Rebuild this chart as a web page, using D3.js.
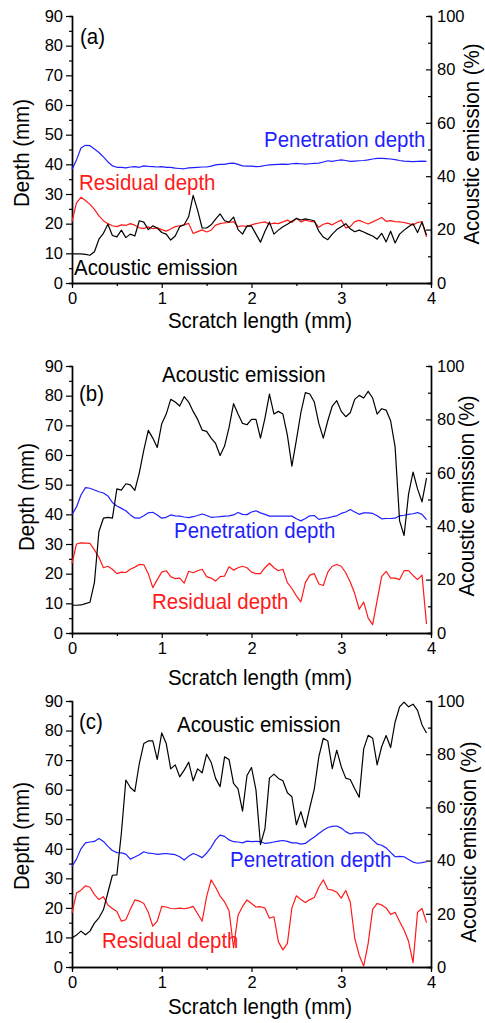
<!DOCTYPE html>
<html>
<head>
<meta charset="utf-8">
<script src="https://cdn.jsdelivr.net/npm/d3@7"></script>
<style>
  html, body { margin: 0; padding: 0; background: #fff; }
  svg { display: block; }
  text { font-family: "Liberation Sans", Arial, sans-serif; }
</style>
</head>
<body>
<svg id="chart" width="485" height="1023"></svg>
<script>
// ---------------- DATA ----------------
const scratchLength = [0,0.05,0.1,0.15,0.2,0.25,0.3,0.35,0.4,0.45,0.5,0.55,0.6,0.65,0.7,0.75,0.8,0.85,0.9,0.95,
  1.0,1.05,1.1,1.15,1.2,1.25,1.3,1.35,1.4,1.45,1.5,1.55,1.6,1.65,1.7,1.75,1.8,1.85,1.9,1.95,
  2.0,2.05,2.1,2.15,2.2,2.25,2.3,2.35,2.4,2.45,2.5,2.55,2.6,2.65,2.7,2.75,2.8,2.85,2.9,2.95,
  3.0,3.05,3.1,3.15,3.2,3.25,3.3,3.35,3.4,3.45,3.5,3.55,3.6,3.65,3.7,3.75,3.8,3.85,3.9,3.95];

const depthTicks = [0,10,20,30,40,50,60,70,80,90];
const aeTicks = [0,20,40,60,80,100];
const lengthTicks = [0,1,2,3,4];

// Panel (a)
const penA = [38.3,41.5,45.5,46.4,46.3,45.2,44.0,42.5,40.8,39.5,39.0,39.0,38.8,39.1,39.2,39.0,39.5,39.3,39.2,39.1,
  39.2,39.0,39.0,38.7,38.6,38.5,38.8,38.9,39.0,39.1,39.1,39.4,39.8,40.0,40.0,40.3,40.4,40.0,39.5,39.4,
  39.4,39.2,39.3,39.6,39.8,39.9,40.0,40.1,40.0,40.2,40.3,40.2,40.1,40.2,40.3,40.4,40.8,41.2,41.0,41.3,
  41.5,41.3,41.0,41.1,41.2,41.3,41.5,41.8,42.0,42.0,41.9,41.8,41.6,41.3,41.1,41.0,40.9,41.0,41.1,41.0];
const resA = [20.7,27.0,28.9,27.8,26.5,24.8,22.6,21.0,20.0,19.3,19.0,19.6,19.4,20.0,19.5,18.6,18.4,18.9,18.3,18.6,
  18.0,17.5,18.2,19.0,19.3,19.6,20.1,16.7,17.3,17.9,17.2,17.8,19.5,20.0,20.3,20.4,20.7,19.0,19.3,19.0,
  19.6,20.0,20.3,20.6,19.8,20.2,20.0,20.6,21.2,20.4,21.8,20.6,21.2,20.8,20.6,18.8,19.8,20.2,19.6,20.5,
  21.2,18.6,19.0,20.7,21.1,20.5,19.9,20.6,21.3,22.1,20.8,21.0,20.7,20.6,20.4,20.0,19.6,20.4,20.7,15.5];
const aeA = [10.9,10.9,10.9,10.7,10.4,11.7,16.4,18.6,22.0,17.8,17.3,19.8,17.0,18.3,17.6,23.3,22.8,20.0,21.4,20.6,
  18.9,18.3,16.1,17.6,21.1,21.8,24.9,32.8,27.2,20.6,20.6,21.8,23.9,25.9,23.3,22.8,24.7,20.0,18.3,21.4,
  21.3,18.3,15.3,19.4,22.8,18.3,19.8,21.1,22.0,23.1,24.2,23.6,24.0,23.7,23.3,19.4,17.2,16.2,18.3,20.0,
  21.1,22.2,20.3,19.2,19.8,19.1,18.3,17.6,16.4,18.6,15.4,19.4,15.0,18.3,19.8,21.1,22.2,18.9,22.8,18.0];

// Panel (b)
const penB = [39.9,42.5,46.5,49.0,48.8,48.2,47.6,47.2,46.2,44.0,42.8,42.0,41.2,39.8,38.8,38.7,39.5,40.5,40.7,39.8,
  38.7,39.0,39.8,39.5,39.4,39.1,38.9,39.2,39.6,40.1,39.6,39.0,39.1,39.2,39.4,39.5,39.8,40.6,40.0,39.9,
  40.8,41.2,40.5,40.0,39.4,39.4,39.4,39.4,39.4,39.4,38.5,37.8,38.6,39.5,39.6,38.3,38.6,38.8,39.2,39.5,
  40.3,40.8,41.6,40.8,40.0,40.5,40.5,40.3,39.5,38.5,38.6,38.6,38.7,39.5,39.7,40.0,40.2,40.6,40.0,38.2];
const resB = [23.4,30.0,30.4,30.3,30.2,28.0,25.5,22.0,22.5,21.5,20.0,20.5,20.4,21.5,22.2,23.1,23.0,20.0,15.3,18.0,
  20.5,21.0,19.0,18.3,18.5,16.8,20.8,20.3,21.0,21.5,19.0,18.5,17.5,19.0,19.2,22.3,21.2,22.0,22.5,22.0,
  20.5,20.0,20.0,22.0,23.5,22.0,21.0,21.5,17.0,15.0,12.5,10.5,17.0,19.5,20.0,16.5,16.0,20.5,22.5,23.1,
  22.5,20.3,17.2,13.3,8.0,10.4,5.0,2.8,11.0,19.0,20.8,18.5,18.5,18.0,21.0,21.0,19.4,18.0,19.5,3.0];
const aeB = [10.4,10.4,10.5,11.0,11.5,19.0,38.0,43.0,43.3,43.0,54.0,53.5,55.9,55.5,53.4,60.0,68.5,75.9,73.0,69.5,
  78.4,82.0,87.5,86.5,85.0,88.5,86.5,83.0,80.0,76.0,75.5,73.0,71.0,66.5,70.0,77.0,85.9,82.0,78.5,78.0,
  80.0,80.0,73.0,80.5,89.5,82.0,83.0,82.0,74.0,62.5,72.2,82.5,90.0,89.5,86.5,78.5,73.0,79.5,85.0,87.0,
  83.0,81.0,82.5,87.5,89.0,88.0,90.5,88.0,82.0,84.0,83.5,79.5,69.7,42.0,36.5,52.0,60.3,54.0,49.1,58.0];

// Panel (c)
const penC = [34.0,36.5,40.0,42.0,42.3,42.5,43.5,42.5,40.8,39.4,38.7,38.6,38.2,36.5,37.2,38.0,39.0,38.5,38.4,38.1,
  38.3,38.4,38.2,38.0,37.3,36.2,37.5,38.4,37.8,37.0,38.5,40.5,43.0,44.6,44.2,43.0,42.4,42.3,42.0,42.6,
  42.4,42.5,42.4,41.8,42.0,42.3,42.6,42.8,42.5,42.0,42.0,41.6,41.8,43.0,44.0,45.2,46.3,47.2,47.6,47.7,
  47.0,45.8,45.0,45.4,45.4,45.4,44.5,43.0,41.6,41.2,40.3,38.8,37.3,37.4,37.3,36.4,35.5,35.1,35.3,35.6];
const resC = [18.2,25.0,26.0,27.5,27.0,24.5,22.8,23.8,21.0,19.8,18.8,15.5,16.0,19.5,22.7,22.3,21.5,18.5,13.8,15.5,
  20.5,20.3,19.8,19.7,19.9,19.7,20.0,20.5,18.0,15.5,23.8,29.5,27.0,24.0,22.0,19.0,6.5,17.5,20.5,22.7,
  21.5,20.3,20.4,19.9,16.5,17.0,8.5,5.8,8.0,20.0,24.1,22.8,21.8,22.8,23.5,27.0,29.5,26.3,26.0,25.3,
  23.3,25.9,22.0,9.8,4.0,0.3,8.0,19.5,21.5,21.0,20.0,17.8,18.5,15.4,12.5,8.7,1.5,18.5,19.8,15.0];
const aeC = [10.9,12.0,13.5,12.1,13.5,16.5,18.5,21.5,28.0,34.5,34.6,50.3,70.3,67.5,66.0,76.5,84.0,85.0,85.0,78.0,
  88.0,84.0,74.5,76.0,71.5,74.0,77.0,70.0,74.5,73.0,80.0,77.0,70.9,67.8,79.0,78.0,69.0,67.0,58.6,72.0,
  75.0,66.5,46.0,52.0,71.0,72.5,70.9,70.0,65.5,64.0,53.5,58.4,52.5,60.0,67.0,79.0,86.0,85.0,74.6,81.5,
  75.3,71.0,70.5,67.0,63.8,82.0,87.1,86.0,76.0,82.8,87.0,82.5,92.1,97.8,99.6,97.8,98.8,96.5,91.0,88.0];

// ---------------- LAYOUT ----------------
const svg = d3.select("#chart");
const X0 = 72, X1 = 431;

const panels = [
  { tag: "(a)", top: 16, bottom: 283, pen: penA, res: resA, ae: aeA,
    tagPos: [80, 44],
    aePos: [74, 275], penPos: [264, 147], resPos: [79, 190],
    xTitleY: 328, lTitle: [29, 153], rTitle: [479, 144] },
  { tag: "(b)", top: 366, bottom: 633, pen: penB, res: resB, ae: aeB,
    tagPos: [79, 401],
    aePos: [162, 382], penPos: [174, 538], resPos: [152, 609],
    xTitleY: 685, lTitle: [34, 497], rTitle: [474, 496] },
  { tag: "(c)", top: 701, bottom: 967, pen: penC, res: resC, ae: aeC,
    tagPos: [79, 729],
    aePos: [177, 732], penPos: [230, 867], resPos: [102, 948],
    xTitleY: 1014, lTitle: [29, 836], rTitle: [476, 842] }
];

const BLUE = "#1f1fff", RED = "#ff1a1a", BLACK = "#000";
const labelFont = "22px";
const SX = 0.93;   // horizontal condensation of the labels
const tickFont = "16.5px";

function styleAxis(g) {
  g.selectAll("path.domain").attr("stroke", "#000").attr("stroke-width", 1.4);
  g.selectAll(".tick line").attr("stroke", "#000").attr("stroke-width", 1.2);
  g.selectAll(".tick text").attr("fill", "#000").style("font-size", tickFont)
    .style("font-family", '"Liberation Sans", Arial, sans-serif');
}

panels.forEach(p => {
  const x = d3.scaleLinear().domain([0, 4]).range([X0, X1]);
  const yL = d3.scaleLinear().domain([0, 90]).range([p.bottom, p.top]);
  const yR = d3.scaleLinear().domain([0, 100]).range([p.bottom, p.top]);
  const g = svg.append("g");

  // minor ticks
  g.append("g").attr("transform", `translate(0,${p.bottom})`)
    .call(d3.axisBottom(x).tickValues([0.5,1.5,2.5,3.5]).tickSize(3).tickFormat(""))
    .call(styleAxis);
  g.append("g").attr("transform", `translate(${X0},0)`)
    .call(d3.axisLeft(yL).tickValues([5,15,25,35,45,55,65,75,85]).tickSize(3).tickFormat(""))
    .call(styleAxis);
  g.append("g").attr("transform", `translate(${X1},0)`)
    .call(d3.axisRight(yR).tickValues([10,30,50,70,90]).tickSize(-3).tickFormat(""))
    .call(styleAxis);

  // major axes
  g.append("g").attr("transform", `translate(0,${p.bottom})`)
    .call(d3.axisBottom(x).tickValues(lengthTicks).tickSize(5).tickSizeOuter(0).tickPadding(4).tickFormat(d3.format("d")))
    .call(styleAxis);
  g.append("g").attr("transform", `translate(${X0},0)`)
    .call(d3.axisLeft(yL).tickValues(depthTicks).tickSize(6).tickSizeOuter(0).tickPadding(3))
    .call(styleAxis);
  g.append("g").attr("transform", `translate(${X1},0)`)
    .call(d3.axisRight(yR).tickValues(aeTicks).tickSize(-5).tickSizeOuter(0).tickPadding(6))
    .call(styleAxis);

  // lines
  const lineL = d3.line().x((d, i) => x(scratchLength[i])).y(d => yL(d));
  const lineR = d3.line().x((d, i) => x(scratchLength[i])).y(d => yR(d));
  g.append("path").datum(p.pen).attr("d", lineL).attr("fill", "none")
    .attr("stroke", BLUE).attr("stroke-width", 1.2).attr("stroke-linejoin", "round");
  g.append("path").datum(p.res).attr("d", lineL).attr("fill", "none")
    .attr("stroke", RED).attr("stroke-width", 1.2).attr("stroke-linejoin", "round");
  g.append("path").datum(p.ae).attr("d", lineR).attr("fill", "none")
    .attr("stroke", BLACK).attr("stroke-width", 1.2).attr("stroke-linejoin", "round");

  // in-plot labels
  const t = (pos, txt, col) => g.append("text")
    .attr("transform", `translate(${pos[0]},${pos[1]}) scale(${SX},1)`)
    .attr("fill", col).style("font-size", labelFont).text(txt);
  t(p.tagPos, p.tag, "#000");
  t(p.aePos, "Acoustic emission", BLACK);
  t(p.penPos, "Penetration depth", BLUE);
  t(p.resPos, "Residual depth", RED);

  // axis titles
  g.append("text").attr("transform", `translate(260,${p.xTitleY}) scale(${SX},1)`).attr("text-anchor", "middle")
    .style("font-size", labelFont).attr("fill", "#000").text("Scratch length (mm)");
  g.append("text").attr("transform", `translate(${p.lTitle[0]},${p.lTitle[1]}) rotate(-90) scale(${SX},1)`)
    .attr("text-anchor", "middle").style("font-size", labelFont).attr("fill", "#000").text("Depth (mm)");
  g.append("text").attr("transform", `translate(${p.rTitle[0]},${p.rTitle[1]}) rotate(-90) scale(${SX},1)`)
    .attr("text-anchor", "middle").style("font-size", labelFont).attr("fill", "#000").text("Acoustic emission (%)");
});
</script>
</body>
</html>
